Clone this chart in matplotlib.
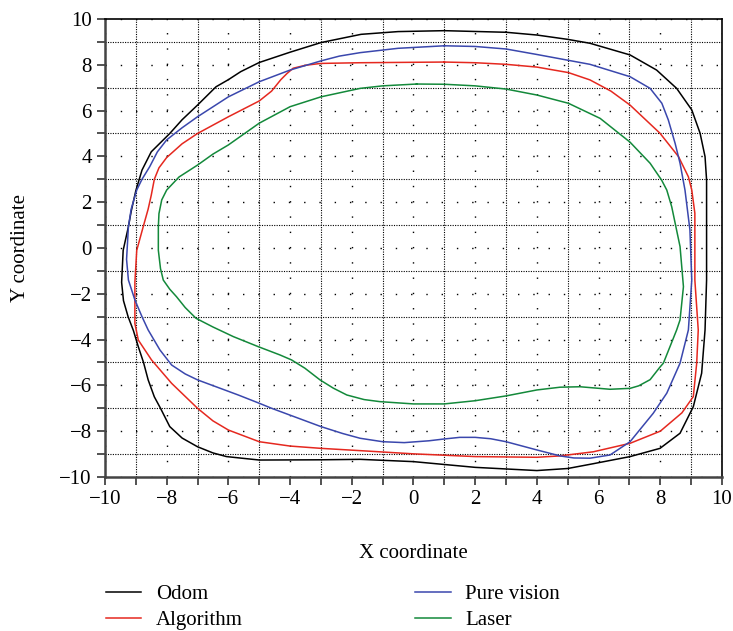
import matplotlib
matplotlib.use("Agg")
import matplotlib.pyplot as plt
from matplotlib.ticker import MultipleLocator

plt.rcParams['font.family'] = ['Liberation Serif', 'DejaVu Serif']

# closed trajectories (x, y)
odom_x = [3.0, 1.0, -0.5, -1.7, -3.0, -4.0, -5.0, -5.6, -6.0, -6.4, -7.0, -7.5, -7.9, -8.5, -8.8,
          -9.0, -9.15, -9.24, -9.41, -9.46, -9.4, -9.25, -9.08, -8.92, -8.75, -8.6, -8.4, -8.2, -7.9,
          -7.5, -7.0, -6.5, -6.06, -5.0, -3.0, -1.73, 0.0, 2.0, 4.0, 5.0, 5.83, 7.02, 7.99, 8.64,
          9.07, 9.34, 9.45, 9.5, 9.5, 9.5, 9.45, 9.29, 9.02, 8.53, 7.88, 7.02, 5.72, 5.0, 4.0, 3.0]
odom_y = [9.42, 9.49, 9.45, 9.33, 8.97, 8.55, 8.1, 7.7, 7.35, 7.04, 6.24, 5.6, 5.0, 4.2, 3.4,
          2.5, 1.6, 0.93, -0.1, -1.5, -2.3, -3.0, -3.6, -4.31, -5.0, -5.76, -6.5, -7.0, -7.8,
          -8.3, -8.68, -8.95, -9.11, -9.26, -9.25, -9.23, -9.33, -9.58, -9.72, -9.63, -9.42, -9.11, -8.75, -8.09,
          -6.93, -5.47, -3.58, -1.4, 0.5, 2.97, 3.99, 5.01, 6.03, 6.97, 7.77, 8.43, 8.94, 9.11, 9.3, 9.42]

vision_x = [1.0, -0.5, -1.73, -2.4, -3.0, -4.0, -5.0, -6.0, -7.0, -7.5, -8.0, -8.3, -8.55, -8.8, -8.97,
            -9.15, -9.24, -9.3, -9.24, -9.03, -8.8, -8.6, -8.22, -7.84, -7.4, -7.0, -5.68, -5.0, -4.6,
            -3.0, -2.3, -1.73, -1.0, -0.3, 0.5, 1.0, 1.5, 2.0, 2.5, 3.0, 4.0, 4.75, 5.2, 5.72, 6.37,
            7.02, 7.77, 8.21, 8.64, 8.91, 9.02, 8.96, 8.8, 8.64, 8.48, 8.26, 8.05, 7.67, 7.02, 5.72,
            4.0, 3.0, 2.0, 1.0]
vision_y = [8.83, 8.72, 8.53, 8.38, 8.17, 7.77, 7.26, 6.6, 5.73, 5.25, 4.72, 4.2, 3.55, 3.0, 2.53,
            1.7, 0.93, -0.5, -1.4, -2.27, -3.0, -3.58, -4.45, -5.11, -5.5, -5.76, -6.42, -6.78, -7.0,
            -7.8, -8.1, -8.31, -8.46, -8.5, -8.42, -8.34, -8.27, -8.27, -8.33, -8.46, -8.82, -9.08, -9.17, -9.18, -9.04,
            -8.46, -7.22, -6.34, -5.03, -3.58, -1.4, 0.79, 2.53, 3.7, 4.57, 5.59, 6.32, 6.97, 7.48, 8.02,
            8.45, 8.69, 8.8, 8.83]

algo_x = [1.0, -1.73, -3.0, -3.5, -3.9, -4.1, -4.3, -4.6, -5.0, -6.0, -7.0, -7.5, -8.0, -8.25, -8.4,
          -8.5, -8.6, -8.76, -8.97, -9.03, -9.03, -8.92, -8.49, -7.84, -7.0, -6.5, -6.0, -5.0, -4.0,
          -3.0, -1.73, 0.0, 2.0, 4.0, 4.75, 5.83, 7.02, 8.0, 8.7, 9.07, 9.18, 9.23, 9.12, 9.12, 9.02,
          8.91, 8.59, 7.99, 7.02, 6.4, 5.72, 5.02, 4.0, 3.0, 2.0, 1.0]
algo_y = [8.12, 8.09, 8.06, 7.98, 7.85, 7.62, 7.35, 6.85, 6.42, 5.73, 5.0, 4.55, 3.95, 3.5, 3.0,
          2.3, 1.7, 0.93, -0.1, -1.5, -3.3, -4.02, -4.89, -5.91, -7.0, -7.55, -7.95, -8.46, -8.65,
          -8.75, -8.85, -8.99, -9.11, -9.14, -9.08, -8.9, -8.53, -8.0, -7.2, -6.49, -5.03, -3.58, -1.4, 1.52, 2.53,
          3.11, 3.99, 5.01, 6.24, 6.85, 7.34, 7.66, 7.9, 8.02, 8.09, 8.12]

laser_x = [0.1, -1.0, -1.73, -3.0, -4.0, -5.0, -6.0, -6.5, -7.0, -7.6, -8.0, -8.16, -8.25, -8.27, -8.27,
           -8.2, -8.11, -7.9, -7.68, -7.4, -7.05, -6.5, -5.84, -5.03, -4.33, -3.95, -3.52, -3.03, -2.6,
           -2.16, -1.6, -1.09, 0.0, 1.0, 2.0, 3.0, 4.0, 4.75, 5.4, 6.37, 7.02, 7.3, 7.67, 7.99, 8.1,
           8.53, 8.64, 8.75, 8.64, 8.37, 8.21, 8.04, 7.67, 7.02, 6.05, 5.02, 4.0, 3.0, 2.0, 1.0, 0.1]
laser_y = [7.16, 7.08, 6.97, 6.6, 6.17, 5.45, 4.5, 4.1, 3.62, 3.1, 2.53, 2.1, 1.5, 0.93, -0.1,
           -0.9, -1.4, -1.8, -2.13, -2.6, -3.07, -3.45, -3.87, -4.31, -4.67, -4.89, -5.25, -5.76, -6.12,
           -6.42, -6.62, -6.71, -6.81, -6.81, -6.67, -6.46, -6.2, -6.08, -6.06, -6.17, -6.13, -6.02, -5.75, -5.2, -5.03,
           -3.58, -3.14, -1.69, 0.06, 1.8, 2.53, 2.97, 3.7, 4.62, 5.66, 6.32, 6.68, 6.94, 7.08, 7.15, 7.16]

fig = plt.figure(figsize=(7.33, 6.31), dpi=100)
ax = fig.add_axes([0.1432, 0.2441, 0.8418, 0.7258])

ax.set_xlim(-10, 10)
ax.set_ylim(-10, 10)
ax.xaxis.set_major_locator(MultipleLocator(2))
ax.yaxis.set_major_locator(MultipleLocator(2))
ax.xaxis.set_minor_locator(MultipleLocator(1))
ax.yaxis.set_minor_locator(MultipleLocator(1))

# sparse dots on even lines, dense dots on odd lines
ax.grid(which='major', color='black', linestyle=(0, (1, 10)), linewidth=1.0)
ax.grid(which='minor', color='black', linestyle=(0, (1, 1.2)), linewidth=0.8)
ax.set_axisbelow(True)

l1, = ax.plot(odom_x, odom_y, color='black', lw=1.1, label='Odom')
l2, = ax.plot(algo_x, algo_y, color='#e5281f', lw=1.1, label='Algorithm')
l3, = ax.plot(vision_x, vision_y, color='#3a47ad', lw=1.1, label='Pure vision')
l4, = ax.plot(laser_x, laser_y, color='#13893a', lw=1.1, label='Laser')

ax.tick_params(which='both', direction='out', length=6, width=1.3, color='#444444',
               labelsize=15, top=False, right=False)
for side in ['left', 'bottom']:
    ax.spines[side].set_linewidth(1.8)
    ax.spines[side].set_color('#444444')
for side in ['top', 'right']:
    ax.spines[side].set_linewidth(1.2)
    ax.spines[side].set_color('black')

ax.set_xlabel('X coordinate', fontsize=15, labelpad=25)
ax.set_ylabel('Y coordinate', fontsize=15, labelpad=21)

fig.legend(handles=[l1, l2, l3, l4], loc='upper left', bbox_to_anchor=(0.13, 0.09), ncol=2,
           frameon=False, fontsize=15, handlelength=1.7, handletextpad=0.7,
           columnspacing=8.3, labelspacing=0.3, borderpad=0)

fig.savefig('out.png', dpi=100)
